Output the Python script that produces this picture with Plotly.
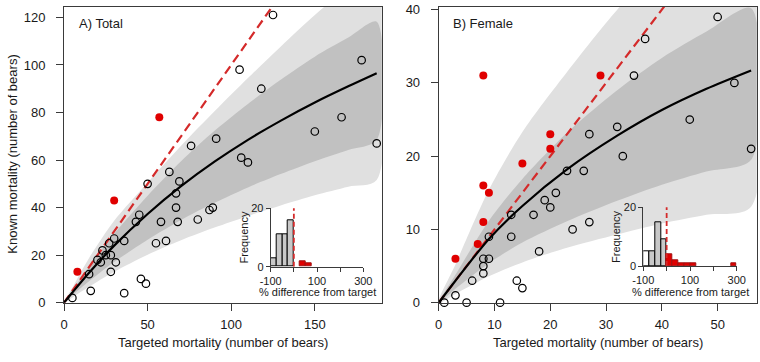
import plotly.graph_objects as go

W, H = 760, 362
def fx(p): return p / W
def fy(p): return 1 - p / H

# ---------------- Panel A (Total) ----------------
total_target = [125, 105, 118, 178, 166, 150, 187, 91, 76, 106, 110, 63, 69, 50, 67, 67, 89, 87,
                45, 43, 58, 68, 80, 55, 61, 36, 30, 27, 23, 20, 25, 28, 22, 31, 28, 15, 46, 49,
                16, 36, 5]
total_known = [121, 98, 90, 102, 78, 72, 67, 69, 66, 61, 59, 55, 51, 50, 46, 40, 40, 39,
               37, 34, 34, 34, 35, 25, 26, 26, 27, 25, 22, 18, 20, 20, 17, 17, 13, 12, 10, 8,
               5, 4, 2]
total_over_target = [57, 30, 8]
total_over_known = [78, 43, 13]

total_curve_x = [0, 5, 15, 30, 50, 70, 90, 110, 130, 150, 170, 187]
total_fit = [0, 4.3, 12.6, 24, 37.3, 49, 59.3, 68.5, 76.7, 84.2, 91, 96.5]
total_inner_hi = [0, 5.2, 15.2, 29, 45, 59.5, 72.3, 83.6, 94, 103.5, 111.5, 118.2]
total_inner_lo = [0, 3.1, 9, 17.1, 26.5, 34.8, 42, 48.5, 54.2, 59.5, 64.2, 68.4]
total_outer_hi = [0, 6.3, 18.8, 34.5, 50.5, 66, 80.5, 94.5, 108, 121, 133, 143]
total_outer_lo = [0, 2.2, 6.7, 13, 20.2, 26.3, 31.6, 36.5, 41, 45.2, 48.8, 51.6]

# ---------------- Panel B (Female) ----------------
female_target = [50, 37, 35, 53, 45, 56, 32, 27, 33, 23, 26, 21, 19, 20, 17, 13, 27, 24, 13, 9,
                 18, 8, 9, 8, 8, 6, 14, 15, 3, 1, 5, 11]
female_known = [39, 36, 31, 30, 25, 21, 24, 23, 20, 18, 18, 15, 14, 13, 12, 12, 11, 10, 9, 9,
                7, 6, 6, 5, 4, 3, 3, 2, 1, 0, 0, 0]
female_over_target = [8, 29, 20, 20, 15, 8, 9, 8, 7, 3]
female_over_known = [31, 31, 23, 21, 19, 16, 15, 11, 8, 6]

female_curve_x = [0, 3, 9, 15, 23, 32, 40, 48, 56]
female_fit = [0, 3.0, 8.7, 13.2, 18.2, 22.8, 26.3, 29.2, 31.7]
female_inner_hi = [0, 3.8, 11.2, 16.9, 23.2, 29, 33.4, 37, 40.2]
female_inner_lo = [0, 1.9, 5.4, 8.2, 11.1, 13.9, 16.1, 17.9, 19.5]
female_outer_hi = [0, 5.2, 15.4, 23.3, 31.5, 40, 46.3, 51.7, 56]
female_outer_lo = [0, 1.2, 3.6, 5.5, 7.5, 9.3, 10.8, 12, 13.1]

# ---------------- Histograms (% difference from target) ----------------
bin_width = 25
total_under_bins = [-87.5, -62.5, -37.5, -12.5]
total_under_counts = [3, 11, 11, 16]
total_over_bins = [37.5, 62.5]
total_over_counts = [2, 1]

female_zero_bins = [-87.5]
female_zero_counts = [5]
female_under_bins = [-62.5, -37.5, -12.5]
female_under_counts = [5, 15, 9]
female_over_bins = [12.5, 37.5, 62.5, 87.5, 112.5, 287.5]
female_over_counts = [4, 2, 1, 1, 1, 1]

LIGHT = "#e0e0e0"
DARK = "#c1c1c1"
RED = "#e00000"
DASH_RED = "#d42a2a"
FONT = "Liberation Sans, Arial, sans-serif"
AXC = "#3a3a3a"

fig = go.Figure()

def add_panel(xa, ya, cx, fit, ilo, ihi, olo, ohi, tx, ty, rx, ry, diag_max):
    fig.add_trace(go.Scatter(x=cx + cx[::-1], y=ohi + olo[::-1], fill="toself", fillcolor=LIGHT,
                             line=dict(width=0, shape="spline", smoothing=0.8), mode="lines", hoverinfo="skip",
                             xaxis=xa, yaxis=ya, showlegend=False))
    fig.add_trace(go.Scatter(x=cx + cx[::-1], y=ihi + ilo[::-1], fill="toself", fillcolor=DARK,
                             line=dict(width=0, shape="spline", smoothing=0.8), mode="lines", hoverinfo="skip",
                             xaxis=xa, yaxis=ya, showlegend=False))
    fig.add_trace(go.Scatter(x=[0, diag_max], y=[0, diag_max], mode="lines",
                             line=dict(color=DASH_RED, width=2.2, dash="9px,5px"),
                             xaxis=xa, yaxis=ya, showlegend=False))
    fig.add_trace(go.Scatter(x=cx, y=fit, mode="lines",
                             line=dict(color="black", width=2.2, shape="spline", smoothing=0.8),
                             xaxis=xa, yaxis=ya, showlegend=False))
    fig.add_trace(go.Scatter(x=tx, y=ty, mode="markers",
                             marker=dict(symbol="circle-open", size=7.5, color="black", line=dict(width=1.2)),
                             xaxis=xa, yaxis=ya, showlegend=False, cliponaxis=False))
    fig.add_trace(go.Scatter(x=rx, y=ry, mode="markers",
                             marker=dict(symbol="circle", size=8, color=RED, line=dict(width=0)),
                             xaxis=xa, yaxis=ya, showlegend=False, cliponaxis=False))

add_panel("x", "y", total_curve_x, total_fit, total_inner_lo, total_inner_hi, total_outer_lo,
          total_outer_hi, total_target, total_known, total_over_target, total_over_known, 200)
add_panel("x2", "y2", female_curve_x, female_fit, female_inner_lo, female_inner_hi, female_outer_lo,
          female_outer_hi, female_target, female_known, female_over_target, female_over_known, 60)

def bars(xa, ya, bx, by, fill, edge):
    fig.add_trace(go.Bar(x=bx, y=by, width=bin_width, marker=dict(color=fill, line=dict(color=edge, width=1)),
                         xaxis=xa, yaxis=ya, showlegend=False))

bars("x3", "y3", total_under_bins, total_under_counts, "#c8c8c8", "black")
bars("x3", "y3", total_over_bins, total_over_counts, RED, "#a01010")
bars("x4", "y4", female_zero_bins, female_zero_counts, "white", "black")
bars("x4", "y4", female_under_bins, female_under_counts, "#c8c8c8", "black")
bars("x4", "y4", female_over_bins, female_over_counts, RED, "#a01010")

for xa, ya in (("x3", "y3"), ("x4", "y4")):
    fig.add_trace(go.Scatter(x=[0, 0], y=[0, 20.5], mode="lines",
                             line=dict(color=DASH_RED, width=1.8, dash="5px,3px"),
                             xaxis=xa, yaxis=ya, showlegend=False, cliponaxis=False))

main_ax = dict(showgrid=False, zeroline=False, showline=True, mirror=True, linecolor=AXC, linewidth=1,
               ticks="outside", ticklen=7, tickcolor=AXC, tickwidth=1, automargin=False,
               tickfont=dict(family=FONT, size=13, color="#1a1a1a"))
inset_ax = dict(showgrid=False, zeroline=False, showline=True, mirror=False, linecolor=AXC, linewidth=1,
                ticks="outside", ticklen=4, tickcolor=AXC, tickwidth=1, automargin=False,
                tickfont=dict(family=FONT, size=11, color="#1a1a1a"), ticklabelstandoff=0)

fig.update_layout(
    width=W, height=H, margin=dict(l=0, r=0, t=0, b=0, autoexpand=False), autosize=False,
    paper_bgcolor="white", plot_bgcolor="rgba(0,0,0,0)", barmode="overlay", bargap=0,
    xaxis=dict(main_ax, domain=[fx(64), fx(381.7)], range=[0, 190], tickvals=[0, 50, 100, 150],
               anchor="y", ticklabelstandoff=3),
    yaxis=dict(main_ax, domain=[fy(302.7), fy(6.7)], range=[0, 124.5], tickvals=[0, 20, 40, 60, 80, 100, 120],
               anchor="x", ticklabelstandoff=8),
    xaxis2=dict(main_ax, domain=[fx(438.7), fx(756.7)], range=[0, 57], tickvals=[0, 10, 20, 30, 40, 50],
                anchor="y2", ticklabelstandoff=3),
    yaxis2=dict(main_ax, domain=[fy(302.7), fy(6.7)], range=[0, 40.4], tickvals=[0, 10, 20, 30, 40],
                anchor="x2", ticklabelstandoff=8),
    xaxis3=dict(inset_ax, domain=[fx(270.7), fx(363.3)], range=[-100, 300], tickvals=[-100, 0, 100, 200, 300],
                ticktext=["-100", "", "100", "", "300"], anchor="y3"),
    yaxis3=dict(inset_ax, domain=[fy(266.7), fy(208.3)], range=[0, 20], tickvals=[0, 20], anchor="x3"),
    xaxis4=dict(inset_ax, domain=[fx(643.3), fx(736.7)], range=[-100, 300], tickvals=[-100, 0, 100, 200, 300],
                ticktext=["-100", "", "100", "", "300"], anchor="y4"),
    yaxis4=dict(inset_ax, domain=[fy(266), fy(207.3)], range=[0, 20], tickvals=[0, 20], anchor="x4"),
)

def note(text, x, y, size=13, angle=0, xanchor="center"):
    fig.add_annotation(text=text, x=fx(x), y=fy(y), xref="paper", yref="paper", showarrow=False,
                       textangle=angle, xanchor=xanchor, yanchor="middle",
                       font=dict(family=FONT, size=size, color="#1a1a1a"))

note("Known mortality (number of bears)", 13, 154.7, angle=-90)
note("Targeted mortality (number of bears)", 222.9, 342)
note("Targeted mortality (number of bears)", 597.7, 342)
note("A) Total", 77, 23, xanchor="left")
note("B) Female", 451, 23, xanchor="left")
note("Frequency", 243, 237.5, size=11, angle=-90)
note("Frequency", 616, 237, size=11, angle=-90)
note("% difference from target", 317, 292, size=11)
note("% difference from target", 690, 292, size=11)

fig.write_html("out.html", config={"displayModeBar": False},
               post_script="document.body.style.margin='0';document.body.style.overflow='hidden';")
